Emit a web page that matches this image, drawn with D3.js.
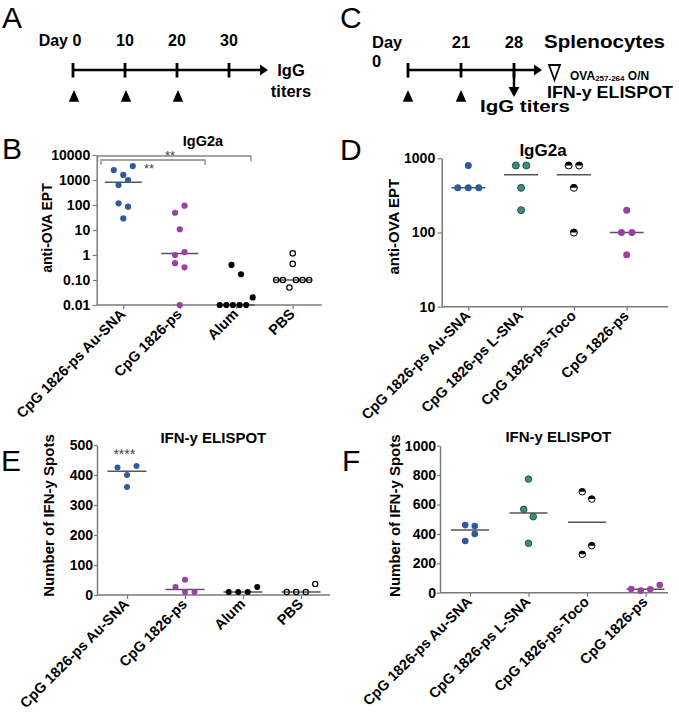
<!DOCTYPE html>
<html>
<head>
<meta charset="utf-8">
<script src="https://cdn.jsdelivr.net/npm/d3@7"></script>
<style>
body { margin: 0; background: #fff; }
svg { display: block; }
</style>
</head>
<body>
<svg id="fig" width="679" height="718"></svg>
<script>
// ---- timelines ----
const daysA = [0, 10, 20, 30];
const boostsA = [0, 10, 20];
const daysC = ["0", "21", "28"];
const boostsC = ["0", "21"];

// ---- panel B: IgG2a, anti-OVA EPT ----
const groupsB = ["CpG 1826-ps Au-SNA", "CpG 1826-ps", "Alum", "PBS"];
const auSnaB = [2500, 1600, 3600, 630, 1000, 117, 86, 29];
const cpgB = [49, 94, 10.7, 1.0, 1.3, 0.47, 0.32, 0.01];
const alumB = [0.01, 0.01, 0.01, 0.01, 0.01, 0.02, 0.4, 0.17];
const pbsB = [0.1, 0.1, 0.05, 0.1, 0.1, 0.1, 0.44, 1.17];
const ticksB = [0.01, 0.1, 1, 10, 100, 1000, 10000];
const tickLabelsB = ["0.01", "0.10", "1", "10", "100", "1000", "10000"];

// ---- panel D: IgG2a, anti-OVA EPT ----
const groupsD = ["CpG 1826-ps Au-SNA", "CpG 1826-ps L-SNA", "CpG 1826-ps-Toco", "CpG 1826-ps"];
const auSnaD = [800, 400, 400, 400];
const lSnaD = [800, 800, 400, 200];
const tocoD = [800, 800, 400, 100];
const cpgD = [200, 100, 100, 50];
const ticksD = [10, 100, 1000];
const tickLabelsD = ["10", "100", "1000"];

// ---- panel E: IFN-y ELISPOT ----
const groupsE = ["CpG 1826-ps Au-SNA", "CpG 1826-ps", "Alum", "PBS"];
const auSnaE = [425, 400, 430, 360];
const cpgE = [27, 10, 10, 51];
const alumE = [10, 10, 10, 27];
const pbsE = [10, 10, 10, 37];
const ticksE = [0, 100, 200, 300, 400, 500];

// ---- panel F: IFN-y ELISPOT ----
const groupsF = ["CpG 1826-ps Au-SNA", "CpG 1826-ps L-SNA", "CpG 1826-ps-Toco", "CpG 1826-ps"];
const auSnaF = [460, 453, 352, 400];
const lSnaF = [773, 567, 517, 336];
const tocoF = [687, 637, 261, 320];
const cpgF = [25, 14, 23, 52];
const ticksF = [0, 200, 400, 600, 800, 1000];

const FONT = '"Liberation Sans", Arial, Helvetica, sans-serif';
const AXIS = "#7a7a7a";
const colors = { blue: "#2f5b9d", purple: "#9c40a3", teal: "#3f8b82", black: "#000" };

const svg = d3.select("#fig").style("font-family", FONT);

function txt(x, y, s, size, opts = {}) {
    const t = svg.append("text")
        .attr("x", x).attr("y", y)
        .attr("text-anchor", opts.anchor || "start")
        .style("font-size", size + "px")
        .style("font-weight", opts.weight || "bold")
        .text(s);
    if (opts.len) t.attr("textLength", opts.len).attr("lengthAdjust", "spacingAndGlyphs");
    return t;
}

// panel letters
[["A", 2, 27.5], ["C", 340, 27.5], ["B", 2, 159], ["D", 340, 160], ["E", 1, 471], ["F", 342, 471]]
    .forEach(d => txt(d[1], d[2], d[0], 30, { weight: "normal" }));

function triUp(x, yTop, yBot, w) {
    return `M${x - w / 2},${yBot}L${x + w / 2},${yBot}L${x},${yTop}Z`;
}

// ---- A: timeline ----
const xA = d3.scaleLinear().domain([0, 30]).range([73, 229]);
svg.append("line").attr("x1", xA(0)).attr("x2", 262).attr("y1", 70).attr("y2", 70)
    .attr("stroke", "#000").attr("stroke-width", 2.5);
svg.append("path").attr("d", "M260,64.5L268,70L260,75.5Z").attr("fill", "#000");
svg.selectAll(".tickA").data(daysA).join("line")
    .attr("x1", d => xA(d)).attr("x2", d => xA(d)).attr("y1", 63).attr("y2", 77.5)
    .attr("stroke", "#000").attr("stroke-width", 2.8);
svg.selectAll(".labA").data(daysA).join("text")
    .attr("x", d => xA(d) + (d === 0 ? 4 : 0)).attr("y", 46)
    .attr("text-anchor", "middle").style("font-size", "16px").style("font-weight", "bold")
    .text(d => d);
txt(xA(0) - 5, 46, "Day", 16, { anchor: "end" });
svg.selectAll(".boostA").data(boostsA).join("path")
    .attr("d", d => triUp(xA(d) + 1, 90, 101.7, 10.5)).attr("fill", "#000");
txt(291, 76, "IgG", 16.5, { anchor: "middle" });
txt(291, 96.5, "titers", 16.5, { anchor: "middle" });

// ---- C: timeline ----
const xC = d3.scalePoint().domain(daysC).range([408, 514]);
svg.append("line").attr("x1", xC("0")).attr("x2", 535).attr("y1", 70).attr("y2", 70)
    .attr("stroke", "#000").attr("stroke-width", 2.5);
svg.append("path").attr("d", "M534,64.5L542,70L534,75.5Z").attr("fill", "#000");
svg.selectAll(".tickC").data(daysC).join("line")
    .attr("x1", d => xC(d)).attr("x2", d => xC(d)).attr("y1", 63).attr("y2", 77.5)
    .attr("stroke", "#000").attr("stroke-width", 2.8);
svg.append("line").attr("x1", xC("28")).attr("x2", xC("28")).attr("y1", 70).attr("y2", 89)
    .attr("stroke", "#000").attr("stroke-width", 2.5);
svg.append("path").attr("d", `M${xC("28") - 5.5},87L${xC("28") + 5.5},87L${xC("28")},97Z`).attr("fill", "#000");
svg.selectAll(".labC").data(daysC.slice(1)).join("text")
    .attr("x", d => xC(d)).attr("y", 47.5)
    .attr("text-anchor", "middle").style("font-size", "16.5px").style("font-weight", "bold")
    .text(d => d);
txt(372, 47.5, "Day", 16.5);
txt(372, 67, "0", 16.5);
svg.selectAll(".boostC").data(boostsC).join("path")
    .attr("d", d => triUp(xC(d), 90, 101.7, 10.5)).attr("fill", "#000");
txt(544, 47.5, "Splenocytes", 17.5, { len: 121 });
svg.append("path").attr("d", "M549,65L560,65L554.5,80Z")
    .attr("fill", "none").attr("stroke", "#000").attr("stroke-width", 1.8);
const ova = svg.append("text").attr("x", 570).attr("y", 79.5).style("font-weight", "bold").style("font-size", "12px");
ova.append("tspan").text("OVA");
ova.append("tspan").attr("dy", 1).style("font-size", "8px").text("257-264");
ova.append("tspan").attr("dy", -1).text(" O/N");
txt(547, 97.5, "IFN-y ELISPOT", 16.5, { len: 126 });
txt(480, 112, "IgG titers", 16.5, { len: 90 });

// ---- scatter dot panels ----
function layoutRows(vals, y, cx, step, maxW) {
    const pts = vals.map((v, i) => ({ v, i, y: y(v) }));
    const sorted = pts.slice().sort((a, b) => b.y - a.y || a.i - b.i);
    const rows = [];
    let cur = null;
    sorted.forEach(p => {
        if (cur && Math.abs(p.y - cur.y0) <= 9.5) cur.pts.push(p);
        else { cur = { y0: p.y, pts: [p] }; rows.push(cur); }
    });
    rows.forEach(r => {
        r.pts.sort((a, b) => a.i - b.i);
        const n = r.pts.length;
        const s = n > 1 ? Math.min(step, maxW / (n - 1)) : 0;
        r.pts.forEach((p, k) => p.x = cx + (k - (n - 1) / 2) * s);
    });
    return pts;
}

function drawDot(g, p, kind, r) {
    if (kind === "open") {
        g.append("circle").attr("cx", p.x).attr("cy", p.y).attr("r", r - 0.4)
            .attr("fill", "none").attr("stroke", "#000").attr("stroke-width", 1.2);
    } else if (kind === "half") {
        g.append("circle").attr("cx", p.x).attr("cy", p.y).attr("r", r)
            .attr("fill", "#fff").attr("stroke", "#000").attr("stroke-width", 1);
        g.append("path")
            .attr("d", `M${p.x - r},${p.y}A${r},${r} 0 0 1 ${p.x + r},${p.y}Z`)
            .attr("fill", "#000");
    } else if (kind === "teal") {
        g.append("circle").attr("cx", p.x).attr("cy", p.y).attr("r", r)
            .attr("fill", colors.teal).attr("stroke", "#23554f").attr("stroke-width", 1);
    } else {
        g.append("circle").attr("cx", p.x).attr("cy", p.y).attr("r", r).attr("fill", colors[kind]);
    }
}

function panel(o) {
    const g = svg.append("g");
    const x = d3.scalePoint().domain(o.groups).range([o.c0, o.c1]);
    const y = (o.log ? d3.scaleLog() : d3.scaleLinear()).domain(o.domain).range([o.yb, o.yt]);

    const ay = g.append("g").attr("transform", `translate(${o.x0},0)`)
        .call(d3.axisLeft(y).tickValues(o.ticks).tickFormat((d, i) => o.tickLabels[i])
            .tickSize(o.tick).tickSizeOuter(0).tickPadding(o.pad));
    ay.select(".domain").attr("stroke", AXIS).attr("stroke-width", 1.5);
    ay.selectAll(".tick line").attr("stroke", AXIS).attr("stroke-width", 1.2);
    ay.selectAll(".tick text").attr("fill", "#000")
        .style("font-family", FONT).style("font-size", "14px").style("font-weight", "bold");

    g.append("line").attr("x1", o.x0).attr("x2", o.x1).attr("y1", o.yb).attr("y2", o.yb)
        .attr("stroke", AXIS).attr("stroke-width", 1.5);
    const ax = g.append("g").attr("transform", `translate(0,${o.yb})`)
        .call(d3.axisBottom(x).tickSize(4).tickFormat(""));
    ax.select(".domain").remove();
    ax.selectAll(".tick line").attr("stroke", AXIS).attr("stroke-width", 1.2);

    g.selectAll("text.xl").data(o.groups).join("text").attr("class", "xl")
        .attr("transform", d => `translate(${x(d) + 3},${o.yb + 10}) rotate(-45)`)
        .attr("text-anchor", "end")
        .style("font-size", "14.5px").style("font-weight", "bold")
        .text(d => d);

    o.series.forEach((vals, gi) => {
        const cx = x(o.groups[gi]);
        const med = d3.median(vals);
        g.append("line").attr("x1", cx - o.medW / 2).attr("x2", cx + o.medW / 2)
            .attr("y1", y(med)).attr("y2", y(med))
            .attr("stroke", "#555").attr("stroke-width", 1.5);
        layoutRows(vals, y, cx, o.step, o.maxW).forEach(p => drawDot(g, p, o.kinds[gi], o.r));
    });

    g.append("text").attr("x", o.title[1]).attr("y", o.title[2]).attr("text-anchor", "middle")
        .style("font-size", o.title[3] + "px").style("font-weight", "bold").text(o.title[0]);
    g.append("text").attr("transform", `translate(${o.ylab[1]},${o.ylab[2]}) rotate(-90)`)
        .attr("text-anchor", "middle")
        .style("font-size", o.ylab[3] + "px").style("font-weight", "bold").text(o.ylab[0]);
    return { g, x, y };
}

const pB = panel({
    groups: groupsB, series: [auSnaB, cpgB, alumB, pbsB], kinds: ["blue", "purple", "black", "open"],
    log: true, domain: [0.01, 10000], ticks: ticksB, tickLabels: tickLabelsB,
    x0: 96.7, x1: 321.7, c0: 123.3, c1: 292.7, yb: 305, yt: 155, tick: 4, pad: 2.5,
    r: 3.1, step: 9.5, maxW: 33, medW: 37,
    title: ["IgG2a", 203, 146, 14.5], ylab: ["anti-OVA EPT", 52, 228, 14]
});

// significance brackets on B
const brackets = [
    { x1: pB.x.range()[0] - 25.6, x2: pB.x(groupsB[2]) + 14.7, y: 156, drop: 5.5, label: "**", lx: 170, ly: 159.5 },
    { x1: pB.x.range()[0] - 22.3, x2: pB.x(groupsB[1]) + 25.3, y: 160, drop: 5, label: "**", lx: 149, ly: 172.5 }
];
brackets.forEach(b => {
    pB.g.append("path")
        .attr("d", `M${b.x1},${b.y + b.drop}V${b.y}H${b.x2}V${b.y + b.drop}`)
        .attr("fill", "none").attr("stroke", "#888").attr("stroke-width", 1.3);
    pB.g.append("text").attr("x", b.lx).attr("y", b.ly).attr("text-anchor", "middle")
        .style("font-size", "13px").attr("fill", "#444").text(b.label);
});

panel({
    groups: groupsD, series: [auSnaD, lSnaD, tocoD, cpgD], kinds: ["blue", "teal", "half", "purple"],
    log: true, domain: [10, 1000], ticks: ticksD, tickLabels: tickLabelsD,
    x0: 441.7, x1: 668, c0: 468.3, c1: 626.7, yb: 306.7, yt: 158.3, tick: 4, pad: 2.5,
    r: 3.5, step: 10.5, maxW: 33, medW: 34,
    title: ["IgG2a", 543, 156, 17], ylab: ["anti-OVA EPT", 398.5, 226.7, 15]
});

const pE = panel({
    groups: groupsE, series: [auSnaE, cpgE, alumE, pbsE], kinds: ["blue", "purple", "black", "open"],
    log: false, domain: [0, 500], ticks: ticksE, tickLabels: ticksE.map(String),
    x0: 97, x1: 330, c0: 127, c1: 301, yb: 595, yt: 445, tick: 3, pad: 1,
    r: 3, step: 9.5, maxW: 33, medW: 39,
    title: ["IFN-y ELISPOT", 213.3, 443, 15], ylab: ["Number of IFN-y Spots", 53.5, 515.5, 15]
});
pE.g.append("text").attr("x", pE.x(groupsE[0]) - 2.7).attr("y", 459).attr("text-anchor", "middle")
    .style("font-size", "14px").attr("fill", "#444").text("****");

panel({
    groups: groupsF, series: [auSnaF, lSnaF, tocoF, cpgF], kinds: ["blue", "teal", "half", "purple"],
    log: false, domain: [0, 1000], ticks: ticksF, tickLabels: ticksF.map(String),
    x0: 440, x1: 668, c0: 470, c1: 645.5, yb: 592.7, yt: 445.7, tick: 3, pad: 1,
    r: 3.3, step: 9.5, maxW: 33, medW: 38,
    title: ["IFN-y ELISPOT", 558.3, 441.5, 15], ylab: ["Number of IFN-y Spots", 400, 515.7, 15]
});
</script>
</body>
</html>
